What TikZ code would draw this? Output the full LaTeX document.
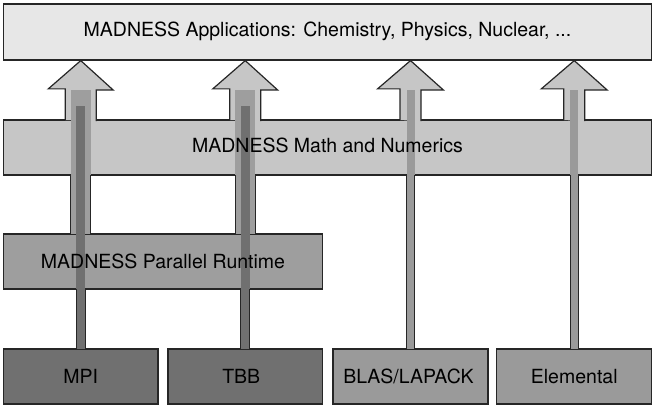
\documentclass[tikz,border=0pt]{standalone}
\usepackage{fontspec}
\setmainfont{TeX Gyre Heros}
\usepackage{tikz}
\usetikzlibrary{calc}
\definecolor{appsGray}{RGB}{231,231,231}
\definecolor{mathGray}{RGB}{198,198,198}
\definecolor{rtGray}{RGB}{158,158,158}
\definecolor{libGray}{RGB}{112,112,112}
\definecolor{linGray}{RGB}{154,154,154}

\begin{document}
\begin{tikzpicture}[
    x=1pt, y=-1pt,
    tier/.style={rectangle, draw=black!85, line width=1.2pt, inner sep=0pt, minimum height=55pt},
    appsbox/.style={tier, fill=appsGray, minimum width=648pt, minimum height=56pt},
    mathbox/.style={tier, fill=mathGray, minimum width=648pt},
    rtbox/.style={tier, fill=rtGray, minimum width=319pt},
    libbox/.style={tier, fill=libGray, minimum width=154.5pt},
    linbox/.style={tier, fill=linGray, minimum width=155pt},
    bigarrow/.style={draw=black!85, line width=1.2pt, fill=mathGray, line join=miter},
    shaft/.style={draw=black!85, line width=1.2pt, line cap=rect},
    boxtext/.style={font=\fontsize{19.5}{22}\selectfont, text=black, text height=14pt, text depth=0pt, inner sep=0pt}
]
    \useasboundingbox (0,0) rectangle (656,409);

    % Layers
    \node[appsbox] (apps) at (327.5, 32) {};
    \node[mathbox] (math) at (327.5, 147.5) {};
    \node[rtbox] (runtime) at (163, 261.5) {};
    \node[libbox] (mpi) at (80.75, 376.5) {};
    \node[libbox] (tbb) at (245.25, 376.5) {};
    \node[linbox] (blas) at (410.5, 376.5) {};
    \node[linbox] (elemental) at (574.25, 376.5) {};

    % Arrows - Math to Applications
    \filldraw[bigarrow] ($(mpi |- math.north)+(-15.5,0.6)$) -- ++(0,-31.1) -- ++(-17,0) -- (mpi |- apps.south) -- ++(32.5,29.5) -- ++(-17,0) -- ++(0,31.1);
    \filldraw[bigarrow] ($(tbb |- math.north)+(-15.5,0.6)$) -- ++(0,-31.1) -- ++(-17,0) -- (tbb |- apps.south) -- ++(32.5,29.5) -- ++(-17,0) -- ++(0,31.1);
    \filldraw[bigarrow] ($(blas |- math.north)+(-10.5,0.6)$) -- ++(0,-31.1) -- ++(-22.5,0) -- (blas |- apps.south) -- ++(33,29.5) -- ++(-22.5,0) -- ++(0,31.1);
    \filldraw[bigarrow] ($(elemental |- math.north)+(-10.5,0.6)$) -- ++(0,-31.1) -- ++(-22.5,0) -- (elemental |- apps.south) -- ++(33,29.5) -- ++(-22.5,0) -- ++(0,31.1);

    % Arrows - Runtime to Math
    \fill[rtGray] ($(mpi |- runtime.north)+(-10,1)$) rectangle ($(mpi |- apps.south)+(10,29.5)$);
    \fill[rtGray] ($(tbb |- runtime.north)+(-10,1)$) rectangle ($(tbb |- apps.south)+(10,29.5)$);
    \draw[shaft] ($(mpi |- math.south)+(-10,0)$) -- ($(mpi |- runtime.north)+(-10,0)$);
    \draw[shaft] ($(mpi |- math.south)+(10,0)$) -- ($(mpi |- runtime.north)+(10,0)$);
    \draw[shaft] ($(tbb |- math.south)+(-10,0)$) -- ($(tbb |- runtime.north)+(-10,0)$);
    \draw[shaft] ($(tbb |- math.south)+(10,0)$) -- ($(tbb |- runtime.north)+(10,0)$);

    % Arrows - MPI and TBB to Runtime
    \fill[libGray] ($(mpi.north)+(-4.5,1)$) rectangle ($(mpi |- apps.south)+(4.5,45)$);
    \fill[libGray] ($(tbb.north)+(-4.5,1)$) rectangle ($(tbb |- apps.south)+(4.5,45)$);
    \draw[shaft] ($(mpi |- runtime.south)+(-4.5,0)$) -- ($(mpi.north)+(-4.5,0)$);
    \draw[shaft] ($(mpi |- runtime.south)+(4.5,0)$) -- ($(mpi.north)+(4.5,0)$);
    \draw[shaft] ($(tbb |- runtime.south)+(-4.5,0)$) -- ($(tbb.north)+(-4.5,0)$);
    \draw[shaft] ($(tbb |- runtime.south)+(4.5,0)$) -- ($(tbb.north)+(4.5,0)$);

    % Arrows - BLAS/LAPACK and Elemental to Math
    \fill[linGray] ($(blas.north)+(-4,1)$) rectangle ($(blas |- apps.south)+(4,29.5)$);
    \fill[linGray] ($(elemental.north)+(-4,1)$) rectangle ($(elemental |- apps.south)+(4,29.5)$);
    \draw[shaft] ($(blas |- math.south)+(-4,0)$) -- ($(blas.north)+(-4,0)$);
    \draw[shaft] ($(blas |- math.south)+(4,0)$) -- ($(blas.north)+(4,0)$);
    \draw[shaft] ($(elemental |- math.south)+(-4,0)$) -- ($(elemental.north)+(-4,0)$);
    \draw[shaft] ($(elemental |- math.south)+(4,0)$) -- ($(elemental.north)+(4,0)$);

    % Texts
    \node[boxtext, yshift=2pt] (appstext) at (apps) {MADNESS Applications: Chemistry, Physics, Nuclear, ...};
    \node[boxtext, yshift=2pt] (mathtext) at (math) {MADNESS Math and Numerics};
    \node[boxtext] (runtimetext) at (runtime) {MADNESS Parallel Runtime};
    \node[boxtext] (mpitext) at (mpi) {MPI};
    \node[boxtext, xshift=-4pt] (tbbtext) at (tbb) {TBB};
    \node[boxtext, xshift=-2pt] (blastext) at (blas) {BLAS/LAPACK};
    \node[boxtext] (elementaltext) at (elemental) {Elemental};
\end{tikzpicture}
\end{document}
